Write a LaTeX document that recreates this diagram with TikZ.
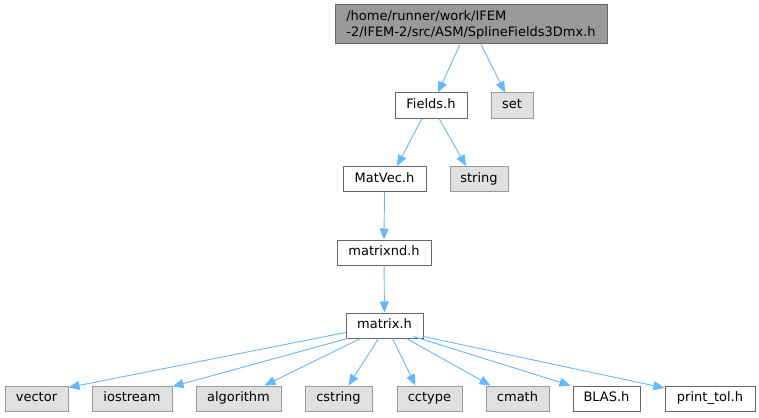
\documentclass[tikz,border=0pt]{standalone}
\usepackage{fontspec}
\setmainfont{DejaVu Sans}
\usetikzlibrary{arrows.meta,calc}

\definecolor{edgeblue}{HTML}{63B8FF}
\definecolor{sysfill}{HTML}{E0E0E0}
\definecolor{sysline}{HTML}{999999}
\definecolor{incline}{HTML}{666666}

\begin{document}
\begin{tikzpicture}[x=1pt,y=-1pt,
    every node/.append style={font=\fontsize{13}{16}\selectfont,
                    text height=1.7ex,text depth=.45ex,minimum height=25,inner sep=0},
    inc/.style={draw=incline,fill=white,line width=1},
    sys/.style={draw=sysline,fill=sysfill,line width=1},
    dep/.style={draw=edgeblue,line width=.9,-{Triangle[length=11,width=9]}}]
    \useasboundingbox (0,0) rectangle (759,417);
    % top file
    \node[draw=incline,fill=sysline,line width=1,minimum width=272,minimum height=39,
          align=left,text height=,text depth=] (top) at (471,24.5)
          {/home/runner/work/IFEM\\-2/IFEM-2/src/ASM/SplineFields3Dmx.h};
    \node[inc,minimum width=72] (fields) at (431,105.5) {Fields.h};
    \node[sys,minimum width=42] (set) at (512,105.5) {set};
    \node[inc,minimum width=83] (matvec) at (384.5,179) {MatVec.h};
    \node[sys,minimum width=58] (string) at (479,179) {string};
    \node[inc,minimum width=94] (matrixnd) at (384,252.5) {matrixnd.h};
    \node[inc,minimum width=77] (matrix) at (384.5,325.5) {matrix.h};
    % bottom row
    \node[sys,minimum width=63] (vector) at (36.5,398.5) {vector};
    \node[sys,minimum width=80] (iostream) at (132,398.5) {iostream};
    \node[sys,minimum width=85] (algorithm) at (238.5,398.5) {algorithm};
    \node[sys,minimum width=67] (cstring) at (338.5,398.5) {cstring};
    \node[sys,minimum width=65] (cctype) at (429.5,398.5) {cctype};
    \node[sys,minimum width=63] (cmath) at (517.5,398.5) {cmath};
    \node[inc,minimum width=67] (blas) at (606.5,398.5) {BLAS.h};
    \node[inc,minimum width=90] (printtol) at (710,398.5) {print\_tol.h};
    % edges
    \draw[dep] ([xshift=-11]top.south) -- ([xshift=7]fields.north);
    \draw[dep] ([xshift=10]top.south) -- ([xshift=-7]set.north);
    \draw[dep] ([xshift=-9]fields.south) -- ([xshift=12.5]matvec.north);
    \draw[dep] ([xshift=8]fields.south) -- ([xshift=-13]string.north);
    \draw[dep] (matvec.south) -- (matrixnd.north);
    \draw[dep] (matrixnd) -- (matrix);
    \draw[dep] ([yshift=-7]matrix.west) -- ([yshift=11]vector.east);
    \draw[dep] ([xshift=-37]matrix.south) -- ([yshift=12]iostream.east);
    \draw[dep] ([xshift=-24]matrix.south) -- ([xshift=26]algorithm.north);
    \draw[dep] ([xshift=-6]matrix.south) -- ([xshift=10]cstring.north);
    \draw[dep] ([xshift=8]matrix.south) -- ([xshift=-14]cctype.north);
    \draw[dep] ([xshift=22]matrix.south) -- ([xshift=-27]cmath.north);
    \draw[dep] ([xshift=29,yshift=2]matrix.south) -- ([xshift=-36]blas.north);
    \draw[dep] ([yshift=-11]matrix.east) -- ([yshift=10.5]printtol.west);
\end{tikzpicture}
\end{document}
